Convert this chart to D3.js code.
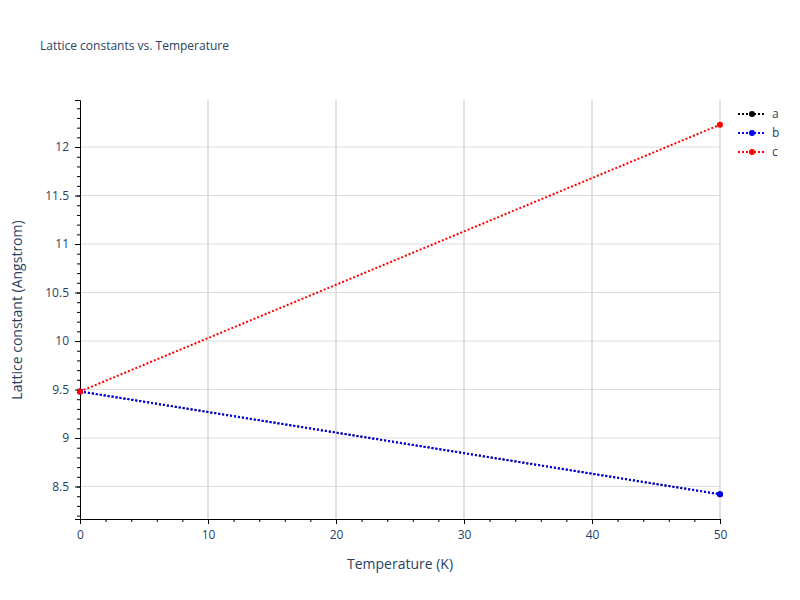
<!doctype html>
<html>
<head>
<script type='text/javascript' src='https://d3js.org/d3.v7.min.js'></script>
<style>body{margin:0}text{font-family:"Open Sans",sans-serif}</style>
</head>
<body>
<script>
var width = 800, height = 600;
var temps = [0, 50];
var seriesNames = ['a', 'b', 'c'];
var seriesColors = ['black', 'blue', 'red'];
var aValues = [9.48, 8.42];
var bValues = [9.48, 8.42];
var cValues = [9.48, 12.23];
var xTicks = [0, 10, 20, 30, 40, 50];
var yTicks = [8.5, 9, 9.5, 10, 10.5, 11, 11.5, 12];
var allValues = [aValues, bValues, cValues];
var txt = '#2a3f5f';

var svg = d3.select('body').append('svg').attr('width', width).attr('height', height);
var x = d3.scaleLinear().domain([0, 50]).range([80, 720]);
var y = d3.scaleLinear().domain([8.165, 12.485]).range([519, 100]);

// grid
svg.selectAll('.gx').data(xTicks.slice(1)).join('line')
 .attr('x1', d => x(d)).attr('x2', d => x(d)).attr('y1', 100).attr('y2', 519)
 .attr('stroke', '#e0e0e0').attr('stroke-width', 2);
svg.selectAll('.gy').data(yTicks).join('line')
 .attr('x1', 80).attr('x2', 720).attr('y1', d => y(d)).attr('y2', d => y(d))
 .attr('stroke', '#dcdcdc');

// axes
svg.append('g').attr('transform', 'translate(0,519)')
 .call(d3.axisBottom(x).tickValues(xTicks).tickSize(5).tickPadding(6));
svg.append('g').attr('transform', 'translate(0,519)')
 .call(d3.axisBottom(x).tickValues(d3.range(0, 51, 2)).tickSize(3).tickFormat(''))
 .select('.domain').remove();
svg.append('g').attr('transform', 'translate(80,0)')
 .call(d3.axisLeft(y).tickValues(yTicks).tickSize(5).tickPadding(6).tickFormat(d3.format('~')));
svg.append('g').attr('transform', 'translate(80,0)')
 .call(d3.axisLeft(y).tickValues(d3.range(82, 125).map(d => d / 10)).tickSize(3).tickFormat(''))
 .select('.domain').remove();
svg.selectAll('.tick text').attr('fill', txt).style('font-size', '12px');

// lines
var line = d3.line().x((d, i) => x(temps[i])).y(d => y(d));
allValues.forEach(function(vals, k) {
 svg.append('path').datum(vals).attr('d', line).attr('fill', 'none')
  .attr('stroke', seriesColors[k]).attr('stroke-width', 2).attr('stroke-dasharray', '2,2');
 svg.selectAll('.m' + k).data(vals).join('circle')
  .attr('cx', (d, i) => x(temps[i])).attr('cy', d => y(d)).attr('r', 3)
  .attr('fill', seriesColors[k]);
});

// legend
seriesNames.forEach(function(n, k) {
 var ly = 114 + k * 19;
 svg.append('line').attr('x1', 738).attr('x2', 766).attr('y1', ly).attr('y2', ly)
  .attr('stroke', seriesColors[k]).attr('stroke-width', 2).attr('stroke-dasharray', '2,2');
 svg.append('circle').attr('cx', 752).attr('cy', ly).attr('r', 3).attr('fill', seriesColors[k]);
 svg.append('text').attr('x', 772).attr('y', ly + 4).text(n).attr('fill', txt).style('font-size', '12px');
});

svg.append('text').attr('x', 40).attr('y', 50).text('Lattice constants vs. Temperature')
 .attr('fill', txt).style('font-size', '12px');
svg.append('text').attr('x', 400).attr('y', 569).attr('text-anchor', 'middle')
 .text('Temperature (K)').attr('fill', txt).style('font-size', '14px');
svg.append('text').attr('transform', 'translate(22,310) rotate(-90)').attr('text-anchor', 'middle')
 .text('Lattice constant (Angstrom)').attr('fill', txt).style('font-size', '14px');
</script>
</body>
</html>
